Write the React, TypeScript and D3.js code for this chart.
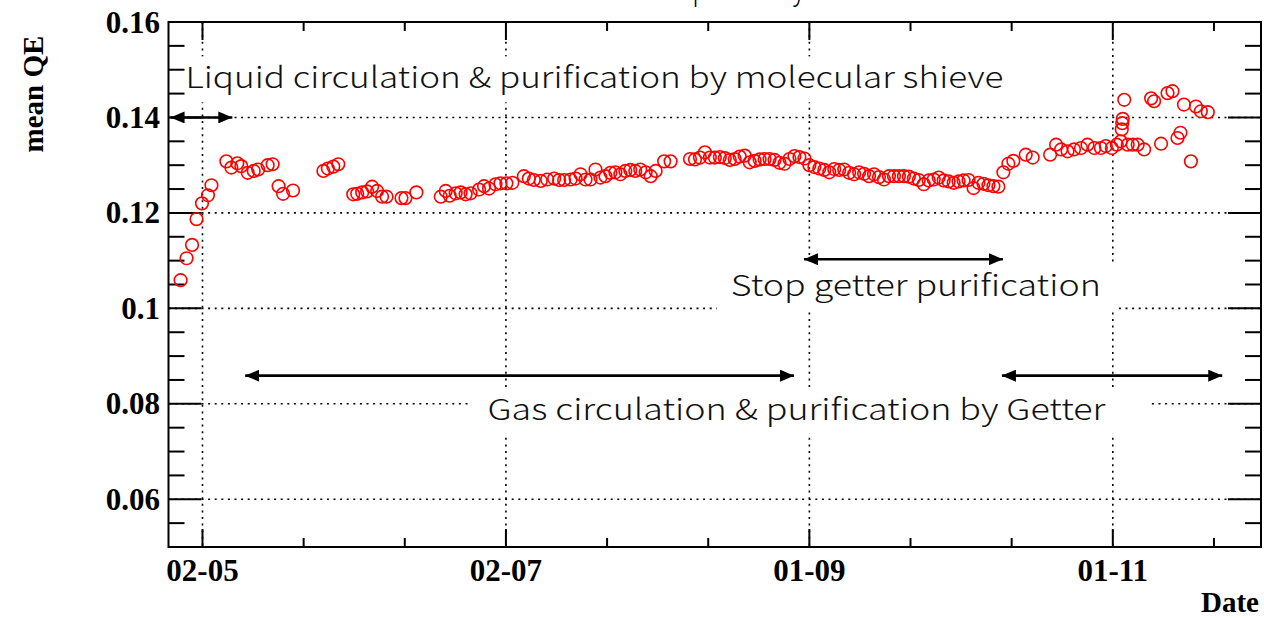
import React from 'react';
import * as d3 from 'd3';

// ---- measurement series -------------------------------------------------
// Days elapsed since the start of the run, and mean QE of the day.
const runStart = '2019-04-27';
const elapsedDays = [
  0.6, 1.8, 2.9, 3.8, 4.9, 6.1, 6.8, 9.8, 10.8, 12.0, 12.8, 14.1, 15.3, 16.2, 18.1, 19.1,
  20.3, 21.2, 23.2, 29.3, 30.2, 31.3, 32.3, 35.3, 36.1, 37.1, 38.1, 39.1, 40.1, 41.1, 42.0,
  45.0, 45.8, 48.0, 52.9, 53.9, 54.7, 55.9, 56.9, 57.9, 58.9, 60.6, 61.6, 62.6, 63.9, 64.9,
  66.1, 67.3, 69.6, 70.6, 71.6, 73.0, 74.3, 75.7, 76.7, 77.7, 79.0, 80.0, 81.0, 82.0, 83.0,
  84.0, 85.0, 86.0, 87.0, 88.0, 89.0, 90.0, 91.0, 92.0, 93.0, 94.1, 95.1, 96.1, 97.8, 99.1,
  103, 104, 105, 106, 107, 108, 109, 110, 111, 112, 113, 114, 115, 116, 117, 118, 119, 120,
  121, 122, 123, 124, 125, 126, 127, 128, 129, 130, 131, 132, 133, 134, 135, 136, 137, 138,
  139, 140, 141, 142, 143, 144, 145, 146, 147, 148, 149, 150, 151, 152, 153, 154, 155, 156,
  157, 158, 159, 160, 161, 162, 163, 164, 165, 166,
  167, 168, 170.5, 171.9, 175.4, 176.6, 177.6, 178.9, 180.2, 181.6, 182.9, 184.3, 185.6,
  186.6, 187.8, 188.8, 189.6, 189.8, 189.9, 190.0, 190.3, 191.0, 192.0, 193.0, 194.3, 195.7,
  196.3, 197.7, 199.0, 200.0, 201.0, 201.6, 202.3, 203.7, 204.7, 205.7, 207.1,
];
const meanQE = [
  0.1059, 0.1105, 0.1133, 0.1187, 0.1220, 0.1237, 0.1258, 0.1308, 0.1295, 0.1304, 0.1298,
  0.1284, 0.1288, 0.1291, 0.1300, 0.1302, 0.1256, 0.1240, 0.1247, 0.1288, 0.1293, 0.1297,
  0.1302, 0.1239, 0.1240, 0.1243, 0.1245, 0.1255, 0.1246, 0.1234, 0.1234, 0.1231, 0.1231,
  0.1243, 0.1234, 0.1246, 0.1236, 0.1241, 0.1243, 0.1239, 0.1241, 0.1249, 0.1256, 0.1251,
  0.1260, 0.1262, 0.1262, 0.1263, 0.1277, 0.1272, 0.1269, 0.1267, 0.1270, 0.1272, 0.1269,
  0.1269, 0.1270, 0.1272, 0.1281, 0.1270, 0.1270, 0.1291, 0.1274, 0.1277, 0.1284, 0.1285,
  0.1281, 0.1288, 0.1290, 0.1288, 0.1291, 0.1285, 0.1277, 0.1288, 0.1308, 0.1308,
  0.1313, 0.1312, 0.1316, 0.1327, 0.1316, 0.1316, 0.1317, 0.1315, 0.1311, 0.1313, 0.1318,
  0.1320, 0.1306, 0.1309, 0.1312, 0.1313, 0.1313, 0.1311, 0.1305, 0.1303, 0.1313, 0.1319,
  0.1317, 0.1314, 0.1300, 0.1296, 0.1293, 0.1290, 0.1285, 0.1292, 0.1290, 0.1291, 0.1284,
  0.1281, 0.1285, 0.1282, 0.1277, 0.1281, 0.1275, 0.1270, 0.1277, 0.1277, 0.1277, 0.1277,
  0.1276, 0.1272, 0.1269, 0.1260, 0.1268, 0.1270, 0.1274, 0.1268, 0.1266, 0.1263, 0.1266,
  0.1268, 0.1269, 0.1252, 0.1263, 0.1261, 0.1258, 0.1256, 0.1255, 0.1285,
  0.1303, 0.1309, 0.1322, 0.1316, 0.1322, 0.1343, 0.1333, 0.1329, 0.1333, 0.1336, 0.1343,
  0.1336, 0.1336, 0.1340, 0.1336, 0.1343, 0.1350, 0.1375, 0.1388, 0.1397, 0.1437, 0.1343,
  0.1343, 0.1343, 0.1333, 0.1440, 0.1434, 0.1345, 0.1451, 0.1455, 0.1357, 0.1368, 0.1427,
  0.1308, 0.1423, 0.1413, 0.1411,
];

// ---- axes ---------------------------------------------------------------
const dateAxisRange = ['2019-04-25T04', '2019-11-30T19'];
const dateTicks = ['2019-05-02', '2019-07-02', '2019-09-01', '2019-11-01'];
const minorDivisions = 3;
const qeAxisRange = [0.05, 0.16];
const qeMajorTicks = [0.06, 0.08, 0.1, 0.12, 0.14, 0.16];
const qeMinorStep = 0.005;
const xTitle = 'Date';
const yTitle = 'mean QE';
const plotTitle = 'Time dependency';

// ---- operating periods --------------------------------------------------
const periodLabels = [
  'Liquid circulation & purification by molecular shieve',
  'Stop getter purification',
  'Gas circulation & purification by Getter',
];
const periodLabelStart = ['2019-04-28T14', '2019-08-16T05', '2019-06-28T07'];
const periodLabelQE = [0.1461, 0.1025, 0.0767];
const arrowFrom = ['2019-04-25T14', '2019-08-30T22', '2019-05-10T14', '2019-10-09T17'];
const arrowTo = ['2019-05-08T00', '2019-10-09T22', '2019-08-28T22', '2019-11-23T00'];
const arrowQE = [0.14, 0.1103, 0.0859, 0.0859];

const W = 1264;
const H = 618;
const frame = { left: 168.5, right: 1261, top: 22, bottom: 547 };

const parseHour = d3.utcParse('%Y-%m-%dT%H');
const parseDay = d3.utcParse('%Y-%m-%d');
const fmtTick = d3.utcFormat('%d-%m');
const DAY = 864e5;

export default function App() {
  const x = d3
    .scaleUtc()
    .domain(dateAxisRange.map((s) => parseHour(s) as Date))
    .range([frame.left, frame.right]);
  const y = d3.scaleLinear().domain(qeAxisRange).range([frame.bottom, frame.top]);

  const start = (parseDay(runStart) as Date).getTime();
  const points = elapsedDays.map((d, i) => ({ t: new Date(start + d * DAY), v: meanQE[i] }));

  const majorDates = dateTicks.map((s) => parseDay(s) as Date);
  const step = (majorDates[1].getTime() - majorDates[0].getTime()) / minorDivisions;
  const [d0, d1] = x.domain().map((d) => d.getTime());
  const minorDates: Date[] = [];
  for (let t = majorDates[0].getTime(); t >= d0; t -= step) minorDates.push(new Date(t));
  for (let t = majorDates[0].getTime() + step; t <= d1; t += step) minorDates.push(new Date(t));

  const minorQE: number[] = [];
  for (let v = qeAxisRange[0]; v <= qeAxisRange[1] + 1e-9; v += qeMinorStep) minorQE.push(+v.toFixed(4));

  const serif = '"Liberation Serif", "Times New Roman", serif';
  const sans = '"Noto Sans CJK JP", "Noto Sans", sans-serif';
  const dotted = '2 4.6';

  // white boxes behind the period labels, and label widths
  const labelWidth = [818, 370, 618];
  const boxPad = [
    [16, 20],
    [14, 14],
    [18, 45],
  ];

  return (
    <svg
      width={W}
      height={H}
      style={{ position: 'absolute', left: 0, top: 0, background: '#fff' }}
      fontFamily={serif}
    >
      <defs>
        <marker
          id="head"
          viewBox="0 0 14 12"
          refX="14"
          refY="6"
          markerWidth="14"
          markerHeight="12"
          markerUnits="userSpaceOnUse"
          orient="auto-start-reverse"
        >
          <path d="M0,0 L14,6 L0,12 Z" fill="#000" />
        </marker>
      </defs>

      {/* title, mostly above the canvas */}
      <text
        x={600}
        y={0}
        fontFamily={sans}
        fontSize={30}
        fontWeight={300}
        fill="#000"
        textLength={205}
        lengthAdjust="spacingAndGlyphs"
      >
        {plotTitle}
      </text>

      {/* grid */}
      <g stroke="#000" strokeWidth={1.6} strokeDasharray={dotted}>
        {qeMajorTicks
          .filter((v) => v < qeAxisRange[1])
          .map((v) => (
            <line key={'gy' + v} x1={frame.left} x2={frame.right} y1={y(v)} y2={y(v)} />
          ))}
        {majorDates.map((d) => (
          <line key={'gx' + d.getTime()} x1={x(d)} x2={x(d)} y1={frame.top} y2={frame.bottom} />
        ))}
      </g>

      {/* period labels */}
      {periodLabels.map((label, i) => {
        const lx = x(parseHour(periodLabelStart[i]) as Date);
        const ly = y(periodLabelQE[i]);
        return (
          <g key={label}>
            <rect
              x={lx - boxPad[i][0]}
              y={ly - 32}
              width={labelWidth[i] + boxPad[i][0] + boxPad[i][1]}
              height={46}
              fill="#fff"
            />
            <text
              x={lx}
              y={ly}
              fontFamily={sans}
              fontSize={29}
              fontWeight={300}
              fill="#111"
              textLength={labelWidth[i]}
              lengthAdjust="spacingAndGlyphs"
            >
              {label}
            </text>
          </g>
        );
      })}

      {/* period arrows */}
      <g stroke="#000" strokeWidth={2.6}>
        {arrowFrom.map((s, i) => {
          const xa = x(parseHour(s) as Date);
          const xb = x(parseHour(arrowTo[i]) as Date);
          const ya = y(arrowQE[i]);
          return (
            <line
              key={'arrow' + i}
              x1={xa}
              x2={xb}
              y1={ya}
              y2={ya}
              markerStart="url(#head)"
              markerEnd="url(#head)"
            />
          );
        })}
      </g>

      {/* frame and ticks */}
      <g stroke="#000" strokeWidth={2}>
        <rect
          x={frame.left}
          y={frame.top}
          width={frame.right - frame.left}
          height={frame.bottom - frame.top}
          fill="none"
        />
        {minorQE.map((v) => {
          const len = qeMajorTicks.some((m) => Math.abs(m - v) < 1e-6) ? 33 : 16;
          return (
            <g key={'ty' + v}>
              <line x1={frame.left} x2={frame.left + len} y1={y(v)} y2={y(v)} />
              <line x1={frame.right} x2={frame.right - len} y1={y(v)} y2={y(v)} />
            </g>
          );
        })}
        {minorDates.map((d) => {
          const len = majorDates.some((m) => m.getTime() === d.getTime()) ? 18 : 9;
          return (
            <g key={'tx' + d.getTime()}>
              <line x1={x(d)} x2={x(d)} y1={frame.bottom} y2={frame.bottom - len} />
              <line x1={x(d)} x2={x(d)} y1={frame.top} y2={frame.top + len} />
            </g>
          );
        })}
      </g>

      {/* tick labels */}
      <g fontWeight="bold" fontSize={31} fill="#000">
        {qeMajorTicks.map((v) => (
          <text key={'ly' + v} x={160} y={y(v) + 10.5} textAnchor="end">
            {d3.format('~g')(v)}
          </text>
        ))}
        {majorDates.map((d) => (
          <text key={'lx' + d.getTime()} x={x(d)} y={581} textAnchor="middle">
            {fmtTick(d)}
          </text>
        ))}
      </g>
      <g fontWeight="bold" fontSize={29} fill="#000">
        <text x={1259} y={612} textAnchor="end">
          {xTitle}
        </text>
        <text transform="translate(43,94) rotate(-90)" textAnchor="middle">
          {yTitle}
        </text>
      </g>

      {/* data */}
      <g fill="none" stroke="#ff0000" strokeWidth={1.6}>
        {points.map((p, i) => (
          <circle key={i} cx={x(p.t)} cy={y(p.v)} r={6.3} />
        ))}
      </g>
    </svg>
  );
}
